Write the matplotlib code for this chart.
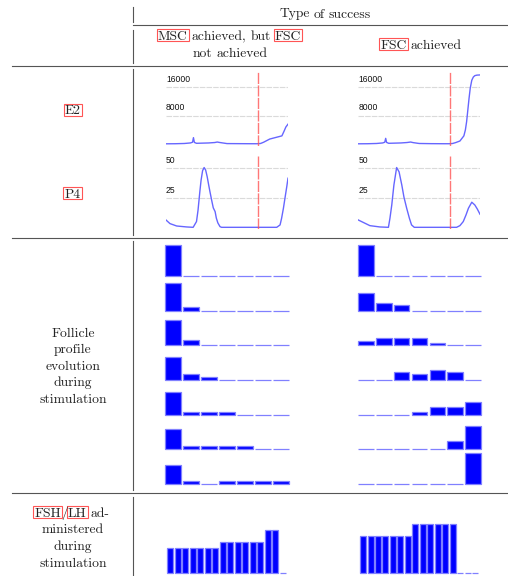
import matplotlib.pyplot as plt
from matplotlib.patches import Rectangle
from matplotlib.lines import Line2D

W, H = 508, 576
SERIF = 'cmr10'
TXT = '#222222'
RULE = '#555555'
LINK = '#ff5555'
CURVE = '#6666ff'
BAR = '#0000ff'
BAR_EDGE = '#8080ff'

# estradiol (pg/mL) by cycle day
e2_days_msc = [0, 3, 6, 8, 8.7, 9.0, 9.3, 10, 12, 14, 16, 16.8, 17.6, 19, 20, 24, 28, 30, 31, 32, 34, 36, 38, 38.7, 39.3, 40]
e2_msc = [60, 80, 150, 300, 500, 1800, 450, 200, 250, 300, 420, 560, 430, 250, 120, 100, 80, 80, 150, 500, 1400, 1850, 2300, 3600, 4800, 5600]
e2_days_fsc = [0, 3, 6, 8, 8.7, 9.0, 9.3, 10, 12, 14, 16, 17.2, 18, 20, 24, 28, 30, 31, 32, 33.4, 34.7, 35.2, 35.6, 36.0, 36.4, 36.8, 37.3, 37.8, 38.3, 39, 40]
e2_fsc = [60, 80, 150, 300, 500, 1600, 450, 200, 250, 300, 420, 560, 400, 150, 100, 80, 80, 150, 400, 850, 2300, 4000, 6300, 9600, 12900, 15800, 18000, 18900, 19300, 19450, 19500]

# progesterone (ng/mL) by cycle day
p4_days_msc = [0, 1.3, 3.5, 6.8, 8.9, 10.0, 10.5, 11.1, 11.5, 12.0, 12.5, 13.0, 13.5, 14.0, 14.4, 15.0, 15.5, 16.1, 16.5, 17.0, 17.7, 18.2, 25, 30, 36.3, 37.4, 37.9, 38.5, 39.0, 39.6, 40]
p4_msc = [6.9, 3.9, 1.9, 1.1, 0.8, 5.6, 15, 30.6, 40, 48, 50.6, 48.5, 43, 36, 30.6, 23, 17, 13.9, 8.5, 4.5, 1.4, 0.8, 0.8, 0.8, 0.8, 2.8, 8.3, 16.7, 25, 34.7, 41.7]
p4_days_fsc = [0, 3.8, 7.1, 9.9, 10.4, 11.0, 11.7, 12.6, 13.4, 14.3, 15.0, 15.9, 16.8, 17.5, 18.4, 25, 32.3, 33.4, 34.5, 35.4, 36.2, 37.3, 38.3, 39.1, 40]
p4_fsc = [6.9, 2.2, 1.1, 0.8, 8.3, 19.4, 36, 50.6, 47, 36, 26, 16.7, 8.3, 2.8, 0.8, 0.8, 0.8, 2.2, 5.6, 11.1, 16.7, 21.7, 19.4, 16.1, 11.7]

stim_start = 30

# follicle size-class distribution, one row per stimulation step
follicles_msc = [
    [1.00, 0, 0, 0, 0, 0, 0],
    [0.91, 0.11, 0, 0, 0, 0, 0],
    [0.81, 0.16, 0, 0, 0, 0, 0],
    [0.75, 0.18, 0.10, 0, 0, 0, 0],
    [0.73, 0.08, 0.08, 0.08, 0, 0, 0],
    [0.65, 0.11, 0.11, 0.11, 0.11, 0, 0],
    [0.59, 0.09, 0, 0.09, 0.09, 0.09, 0.09],
]
follicles_fsc = [
    [1.00, 0, 0, 0, 0, 0, 0],
    [0.58, 0.26, 0.18, 0, 0, 0, 0],
    [0.15, 0.25, 0.25, 0.25, 0.08, 0, 0],
    [0, 0, 0.27, 0.18, 0.33, 0.27, 0],
    [0, 0, 0, 0.07, 0.25, 0.25, 0.41],
    [0, 0, 0, 0, 0, 0.26, 0.76],
    [0, 0, 0, 0, 0, 0, 0.99],
]

# daily FSH/LH dose (IU)
dose_msc = [150] * 7 + [187.5] * 6 + [262.5] * 2 + [0]
dose_fsc = [225] * 7 + [300] * 6 + [0] * 3


fig = plt.figure(figsize=(W / 100, H / 100), dpi=100)
renderer = fig.canvas.get_renderer()


def px_axes(x0, y0, x1, y1):
    # pixel box (top-left origin) -> figure axes
    return fig.add_axes([x0 / W, 1 - y1 / H, (x1 - x0) / W, (y1 - y0) / H])


def rule(x0, y0, x1, y1):
    fig.add_artist(Line2D([x0 / W, x1 / W], [1 - y0 / H, 1 - y1 / H], color=RULE, lw=0.8))


def words(tokens, xc, y, size=9.8):
    # tokens: (text, boxed, space_after); centred line at baseline y
    space = 0.3 * size * 100 / 72
    items = []
    total = 0
    for s, boxed, sp in tokens:
        t = fig.text(0, 0, s, fontsize=size, family=SERIF, color=TXT, va='baseline')
        w = t.get_window_extent(renderer).width
        items.append((t, w, boxed))
        total += w + (space if sp else 0)
    x = xc - total / 2
    em = size * 100 / 72
    for (t, w, boxed), (_, _, sp) in zip(items, tokens):
        t.set_position((x / W, 1 - y / H))
        if boxed:
            fig.add_artist(Rectangle(((x - 1) / W, 1 - (y + 1.2) / H), (w + 2) / W, (0.68 * em + 2.6) / H,
                                     transform=fig.transFigure, fill=False, ec=LINK, lw=0.8))
        x += w + (space if sp else 0)


# table rules
rule(133.3, 25, 508, 25)
rule(12, 65.7, 508, 65.7)
rule(12, 237.5, 508, 237.5)
rule(12, 493, 508, 493)
for y0, y1 in [(6.5, 22), (30, 62.5), (68.5, 234.5), (240.5, 490), (497, 576)]:
    rule(133.3, y0, 133.3, y1)

# header
words([('Type', 0, 1), ('of', 0, 1), ('success', 0, 0)], 325, 17.5)
words([('MSC', 1, 1), ('achieved,', 0, 1), ('but', 0, 1), ('FSC', 1, 0)], 229.5, 40)
words([('not', 0, 1), ('achieved', 0, 0)], 230, 56.7)
words([('FSC', 1, 1), ('achieved', 0, 0)], 421, 49)

# row labels
words([('E2', 1, 0)], 72.5, 114.3)
words([('P4', 1, 0)], 72.5, 197.7)
for i, s in enumerate(['Follicle', 'profile', 'evolution', 'during', 'stimulation']):
    words([(s, 0, 0)], 73, 336.7 + i * 16.5)
words([('FSH', 1, 0), ('/', 0, 0), ('LH', 1, 1), ('ad-', 0, 0)], 72, 516.7)
for i, s in enumerate(['ministered', 'during', 'stimulation']):
    words([(s, 0, 0)], 73, 533.4 + i * 16.7)


def hormone(ax, days, vals, ticks, ylim):
    ax.plot(days, vals, color=CURVE, lw=1)
    ax.axvline(stim_start, color=LINK, lw=1, alpha=0.8, ls=(0, (8, 1)))
    for tk in ticks:
        ax.axhline(tk, color='#dadada', lw=0.8, ls=(0, (5, 1)), zorder=0)
        ax.annotate(str(tk), (0, tk), xycoords=('axes fraction', 'data'), xytext=(0, 2.5),
                    textcoords='offset points', va='bottom', ha='left', fontsize=6.2,
                    family='Liberation Sans', color='#111111')
    ax.set_xlim(0, 40)
    ax.set_ylim(*ylim)
    ax.axis('off')


for x0, x1, e_d, e_v, p_d, p_v in [(166, 288, e2_days_msc, e2_msc, p4_days_msc, p4_msc),
                                   (358.3, 480, e2_days_fsc, e2_fsc, p4_days_fsc, p4_fsc)]:
    hormone(px_axes(x0, 72, x1, 145.5), e_d, e_v, [16000, 8000], (-420, 20330))
    hormone(px_axes(x0, 156, x1, 229), p_d, p_v, [50, 25], (-0.6, 60.2))

# follicle histograms
for x0, x1, rows in [(164, 290, follicles_msc), (356.7, 482.3, follicles_fsc)]:
    for i, row in enumerate(rows):
        base = 276.3 + i * 34.57
        ax = px_axes(x0, base - 31, x1, base)
        bars = ax.bar(range(len(row)), row, width=0.88, color=BAR, edgecolor=BAR_EDGE, lw=0.9)
        for b in bars:
            b.set_clip_on(False)
        ax.set_xlim(-0.5, len(row) - 0.5)
        ax.set_ylim(0, 1)
        ax.axis('off')

# gonadotropin doses
for x0, x1, dose in [(166.7, 286.7, dose_msc), (359.3, 479, dose_fsc)]:
    ax = px_axes(x0, 523, x1, 573)
    bars = ax.bar(range(len(dose)), dose, width=0.8, color=BAR, edgecolor=BAR_EDGE, lw=0.9)
    for b in bars:
        b.set_clip_on(False)
    ax.set_xlim(-0.5, len(dose) - 0.5)
    ax.set_ylim(0, 303.6)
    ax.axis('off')

fig.savefig('out.png', dpi=100)
